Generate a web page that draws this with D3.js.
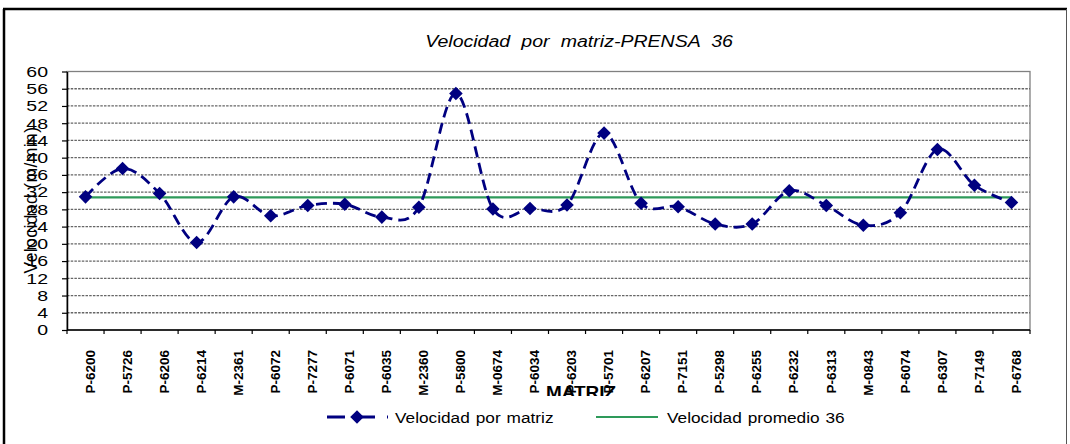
<!DOCTYPE html>
<html>
<head>
<meta charset="utf-8">
<script src="https://cdn.jsdelivr.net/npm/d3@7"></script>
<style>
  body { margin: 0; background: #fff; }
  svg { display: block; font-family: "Liberation Sans", Arial, sans-serif; }
</style>
</head>
<body>
<svg width="1070" height="444"></svg>
<script>
// data
var categories = ["P-6200", "P-5726", "P-6206", "P-6214", "M-2361", "P-6072", "P-7277",
  "P-6071", "P-6035", "M-2360", "P-5800", "M-0674", "P-6034", "P-6203", "P-5701",
  "P-6207", "P-7151", "P-5298", "P-6255", "P-6232", "P-6313", "M-0843", "P-6074",
  "P-6307", "P-7149", "P-6768"];
var speeds = [30.9, 37.5, 31.7, 20.3, 30.9, 26.5, 28.9, 29.2, 26.2, 28.5, 54.9, 28.1, 28.2,
  29.0, 45.7, 29.4, 28.6, 24.6, 24.6, 32.3, 28.9, 24.3, 27.2, 41.9, 33.6, 29.6];
var avgSpeed = 30.8;
var yTicks = [0, 4, 8, 12, 16, 20, 24, 28, 32, 36, 40, 44, 48, 52, 56, 60];
var gridTicks = [4, 8, 12, 16, 20, 24, 28, 32, 36, 40, 44, 48, 52, 56];

var svg = d3.select("svg"),
    plot = {left: 67, right: 1030, top: 71.5, bottom: 330};

var x = d3.scaleBand().domain(categories).range([plot.left, plot.right]),
    y = d3.scaleLinear().domain([0, 60]).range([plot.bottom, plot.top]);

function cx(d) { return x(d) + x.bandwidth() / 2; }

// outer frame
svg.append("line").attr("x1", 3).attr("x2", 1067).attr("y1", 9).attr("y2", 9)
    .attr("stroke", "#000").attr("stroke-width", 2.5);
svg.append("line").attr("x1", 4).attr("x2", 4).attr("y1", 9).attr("y2", 444)
    .attr("stroke", "#000").attr("stroke-width", 2.5);
svg.append("line").attr("x1", 1066.5).attr("x2", 1066.5).attr("y1", 9).attr("y2", 444)
    .attr("stroke", "#555").attr("stroke-width", 1);

// plot area border
svg.append("rect")
    .attr("x", plot.left).attr("y", plot.top)
    .attr("width", plot.right - plot.left).attr("height", plot.bottom - plot.top)
    .attr("fill", "#fff").attr("stroke", "#808080").attr("stroke-width", 1.3);

// gridlines
svg.append("g").selectAll("line")
  .data(gridTicks)
  .enter().append("line")
    .attr("x1", plot.left).attr("x2", plot.right)
    .attr("y1", function(d) { return y(d); })
    .attr("y2", function(d) { return y(d); })
    .attr("stroke", "#666")
    .attr("stroke-width", 1.3)
    .attr("stroke-dasharray", "2.5,1.2");

// y axis
var yAxis = svg.append("g")
    .attr("transform", "translate(" + plot.left + ",0)")
    .call(d3.axisLeft(y).tickValues(yTicks).tickSize(5).tickSizeOuter(0));
yAxis.select(".domain").attr("stroke", "#000").attr("stroke-width", 1.5);
yAxis.selectAll(".tick line").attr("stroke", "#000").attr("stroke-width", 1.2);
yAxis.selectAll(".tick text")
    .attr("x", -19 / 1.3)
    .attr("transform", "scale(1.3,1)")
    .attr("fill", "#000")
    .style("font-size", "15px")
    .style("font-family", "Liberation Sans, Arial, sans-serif");

// x axis
svg.append("line")
    .attr("x1", plot.left).attr("x2", plot.right)
    .attr("y1", plot.bottom).attr("y2", plot.bottom)
    .attr("stroke", "#000").attr("stroke-width", 1.5);
svg.append("g").selectAll("line")
  .data(categories.concat(["__end"]))
  .enter().append("line")
    .attr("x1", function(d) { return d === "__end" ? plot.right : x(d); })
    .attr("x2", function(d) { return d === "__end" ? plot.right : x(d); })
    .attr("y1", plot.bottom).attr("y2", plot.bottom + 4)
    .attr("stroke", "#000").attr("stroke-width", 1.2);

// x title (partly covered by the legend, like the original)
svg.append("text")
    .attr("transform", "translate(581,398) scale(1.15,1)")
    .attr("text-anchor", "middle")
    .style("font-size", "16.5px")
    .style("font-weight", "bold")
    .text("MATRIZ");

svg.append("g").selectAll("text")
  .data(categories)
  .enter().append("text")
    .attr("transform", function(d) { return "translate(" + (cx(d) + 4.5) + ",350) rotate(-90)"; })
    .attr("text-anchor", "end")
    .attr("dy", "0.35em")
    .style("font-size", "13.5px")
    .style("font-weight", "bold")
    .text(function(d) { return d; });

// y title
svg.append("text")
    .attr("transform", "translate(31,200) rotate(-90)")
    .attr("text-anchor", "middle")
    .attr("dy", "0.35em")
    .style("font-size", "17.5px")
    .style("letter-spacing", "0.4px")
    .text("Velocidad (m/min)");

// average line
svg.append("line")
    .attr("x1", cx(categories[0]))
    .attr("x2", cx(categories[categories.length - 1]))
    .attr("y1", y(avgSpeed)).attr("y2", y(avgSpeed))
    .attr("stroke", "#2e9a5a").attr("stroke-width", 2.2);

// speed series
var line = d3.line()
    .x(function(d, i) { return cx(categories[i]); })
    .y(function(d) { return y(d); })
    .curve(d3.curveCardinal.tension(0));

svg.append("path")
    .datum(speeds)
    .attr("fill", "none")
    .attr("stroke", "#000080")
    .attr("stroke-width", 2.8)
    .attr("stroke-dasharray", "11,6")
    .attr("d", line);

var diamond = d3.symbol().type(d3.symbolSquare).size(92);

svg.append("g").selectAll("path")
  .data(speeds)
  .enter().append("path")
    .attr("d", diamond)
    .attr("transform", function(d, i) { return "translate(" + cx(categories[i]) + "," + y(d) + ") rotate(45)"; })
    .attr("fill", "#000080");

// legend
svg.append("rect")
    .attr("x", 310).attr("y", 396).attr("width", 550).attr("height", 40)
    .attr("fill", "#fff");

var lg = svg.append("g");
lg.append("line").attr("x1", 327).attr("x2", 388).attr("y1", 417).attr("y2", 417)
    .attr("stroke", "#000080").attr("stroke-width", 2.8).attr("stroke-dasharray", "18,12");
lg.append("path").attr("d", diamond)
    .attr("transform", "translate(357,417) rotate(45)")
    .attr("fill", "#000080");
lg.append("text")
    .attr("transform", "translate(395,422.5) scale(1.15,1)")
    .style("font-size", "15px")
    .style("word-spacing", "1px")
    .text("Velocidad por matriz");

lg.append("line").attr("x1", 596).attr("x2", 658).attr("y1", 417).attr("y2", 417)
    .attr("stroke", "#2e9a5a").attr("stroke-width", 2.2);
lg.append("text")
    .attr("transform", "translate(667,422.5) scale(1.15,1)")
    .style("font-size", "15px")
    .style("word-spacing", "1px")
    .text("Velocidad promedio 36");

// title
svg.append("text")
    .attr("transform", "translate(579,47) scale(1.15,1)")
    .attr("text-anchor", "middle")
    .style("font-size", "17px")
    .style("font-style", "italic")
    .style("word-spacing", "5px")
    .text("Velocidad por matriz-PRENSA 36");
</script>
</body>
</html>
